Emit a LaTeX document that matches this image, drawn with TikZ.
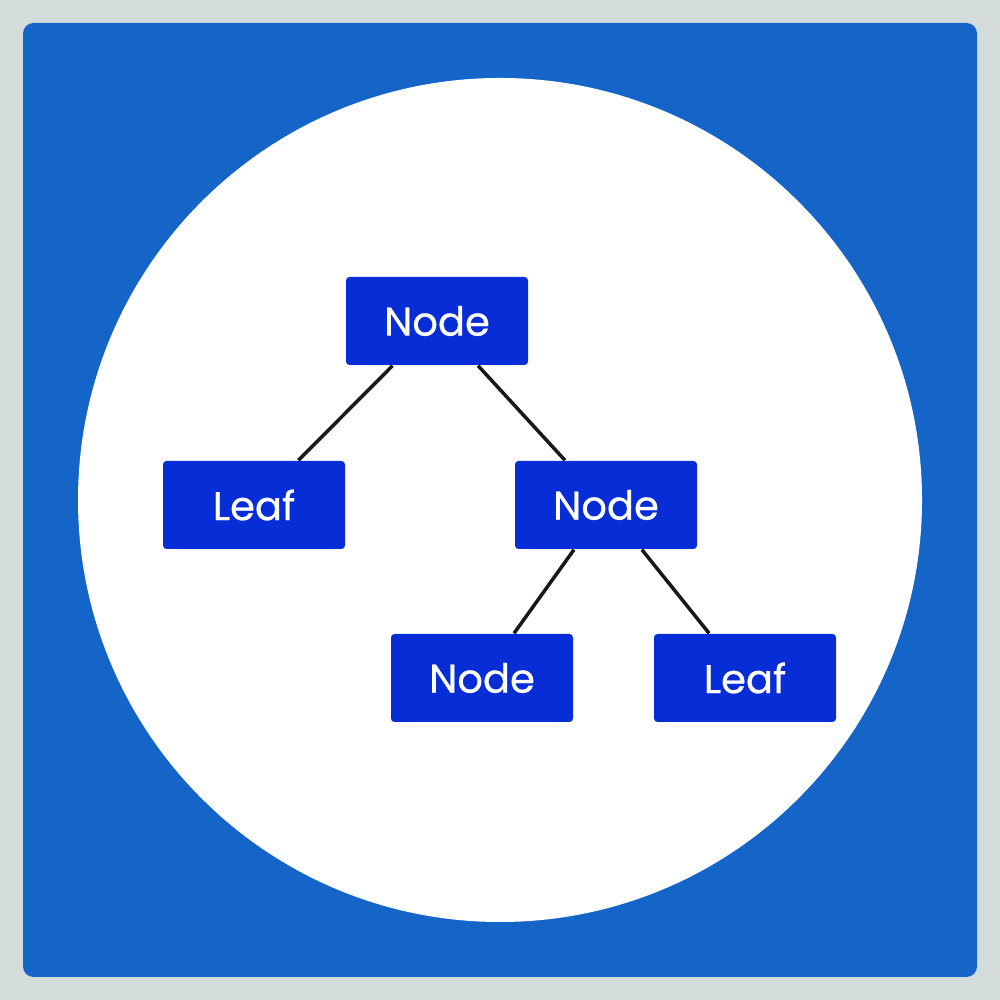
\documentclass[tikz,border=0pt]{standalone}
\usepackage{fontspec}
\setmainfont{Poppins}
\newfontfamily\boxfont{Poppins}[FakeBold=0.6]
\usepackage{xcolor}
\usepackage{tikz}
\usetikzlibrary{positioning}

\definecolor{bgray}{HTML}{D3DCDB}
\definecolor{frameblue}{HTML}{1565C8}
\definecolor{boxblue}{HTML}{062DD6}

\begin{document}
\begin{tikzpicture}[
    tnode/.style={rectangle, fill=boxblue, rounded corners=1pt, minimum width=1.82cm, minimum height=0.88cm, inner sep=0pt, text=white, font=\boxfont\fontsize{11.4}{13}\selectfont},
    edge/.style={draw=black!90, line width=1pt}
]

% background and frame
\fill[bgray] (0,0) rectangle (10,10);
\fill[frameblue, rounded corners=3pt] (0.23,0.23) rectangle (9.77,9.77);
\fill[white] (5.0,5.0) circle (4.22cm);

\node[tnode] (root) at (4.37,6.79) {Node};
\node[tnode] (leafA) at (2.54,4.95) {Leaf};
\node[tnode] (inner) at (6.06,4.95) {Node};
\node[tnode] (lower) at (4.82,3.22) {Node};
\node[tnode] (leafB) at (7.45,3.22) {Leaf};

\draw[edge] (root) -- (leafA);
\draw[edge] (root) -- (inner);
\draw[edge] (inner) -- (lower);
\draw[edge] (inner) -- (leafB);

\end{tikzpicture}
\end{document}
